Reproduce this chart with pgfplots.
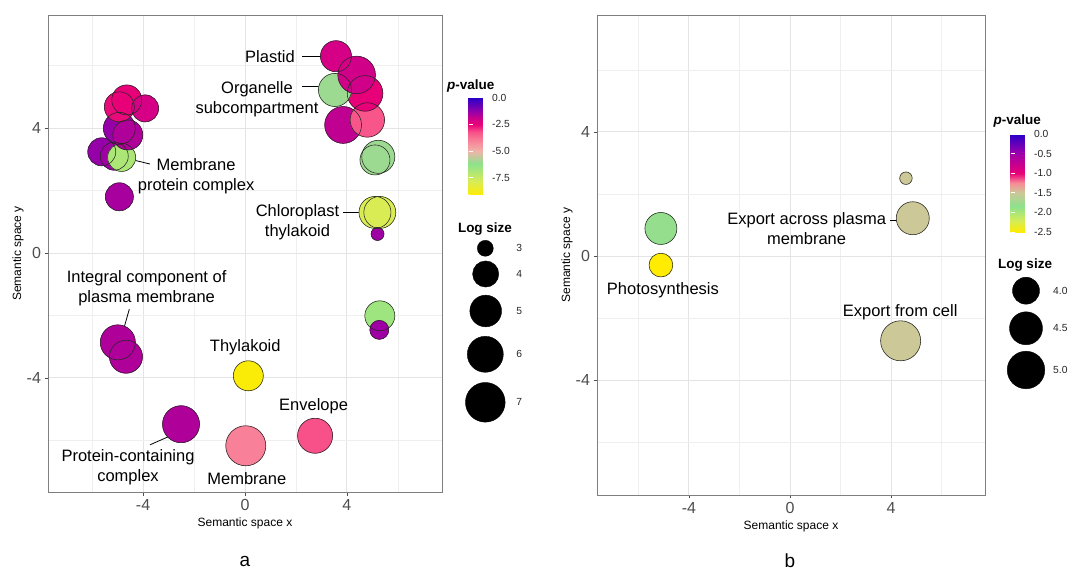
\documentclass[border=0pt]{standalone}
\usepackage{pgfplots}
\pgfplotsset{compat=1.18}
\usepackage{pgfplotstable}
\usepackage{fontspec}
\setmainfont{Liberation Sans}
\definecolor{tickgray}{HTML}{4D4D4D}
\definecolor{framegray}{HTML}{7F7F7F}
\definecolor{gridmajor}{HTML}{E4E4E4}
\definecolor{gridminor}{HTML}{EFEFEF}
\newcommand\annfont{\fontsize{16.5}{20}\selectfont}
\newcommand\tickfont{\fontsize{16}{18}\selectfont}
\newcommand\titfont{\fontsize{12}{14}\selectfont}
\newcommand\legfont{\fontsize{10.3}{12}\selectfont}
\newcommand\legtit{\fontsize{13.5}{15}\selectfont\bfseries}

\pgfplotsset{
  colormap={pvA}{rgb255(0cm)=(255,236,0) rgb255(1.32cm)=(214,236,90) rgb255(2.92cm)=(140,226,140) rgb255(4.12cm)=(240,180,170) rgb255(5.12cm)=(248,128,152) rgb255(5.92cm)=(248,80,136) rgb255(6.62cm)=(232,0,120) rgb255(7.12cm)=(208,0,136) rgb255(7.82cm)=(150,0,168) rgb255(9.12cm)=(40,0,200)},
  colormap={pvB}{rgb255(0cm)=(255,236,0) rgb255(0.3cm)=(210,236,90) rgb255(0.65cm)=(140,226,140) rgb255(1.0cm)=(204,200,152) rgb255(1.25cm)=(248,140,150) rgb255(1.5cm)=(232,0,120) rgb255(2.0cm)=(160,0,170) rgb255(2.5cm)=(40,0,200)},
  mainax/.style={
    anchor=south west, scale only axis,
    xtick={-4,0,4}, ytick={-4,0,4}, xticklabels={-4,0,4}, yticklabels={-4,0,4},
    minor xtick={-6,-2,2,6}, minor ytick={-6,-2,2,6},
    grid=both,
    major grid style={gridmajor, line width=1pt},
    minor grid style={gridminor, line width=0.7pt},
    axis line style={framegray, line width=0.8pt},
    tick style={tickgray, line width=0.7pt},
    major tick length=3.5pt, minor tick length=0pt,
    tick align=outside, tick pos=left,
    ticklabel style={font=\tickfont, text=tickgray},
    xlabel={Semantic space x}, ylabel={Semantic space y},
    label style={font=\titfont},
    clip=false,
  },
  cbar/.style={
    scale only axis,
    axis line style={draw=none},
    tick style={white, line width=0.7pt},
    major tick length=4pt,
    tick align=inside, ytick pos=both, yticklabel pos=right,
    yticklabel style={font=\legfont, text=black!85},
  },
  legax/.style={anchor=south west, scale only axis, hide axis, clip=false},
  sizeA/.style={visualization depends on={(11.6+13.87*sqrt(max(\thisrow{ls}-2.9,0)))/2 \as \msize}},
  sizeB/.style={visualization depends on={(12.5+20.5*sqrt(max(\thisrow{ls}-3.5,0)))/2 \as \msize}},
  fillbub/.style={scatter, only marks, mark=*, point meta=\thisrow{p},
    scatter/use mapped color={draw=mapped color, fill=mapped color},
    scatter/@pre marker code/.append style={/tikz/mark size=\msize}},
  linebub/.style={scatter, only marks, mark=o, point meta=\thisrow{p},
    scatter/use mapped color={draw=black!85, line width=0.55pt},
    scatter/@pre marker code/.append style={/tikz/mark size=\msize}},
  legbub/.style={scatter, only marks, mark=*, point meta=\thisrow{ls},
    scatter/use mapped color={draw=black, fill=black},
    scatter/@pre marker code/.append style={/tikz/mark size=\msize}},
}

% left panel: x, y, log size, log10 p-value
\pgfplotstableread{
x y ls p
-5.62 3.24 4.30 -1.3
-5.13 3.10 4.30 -1.4
-4.84 3.06 4.30 -6.9
-4.93 3.99 5.06 -1.3
-4.60 3.78 4.66 -1.6
-4.93 4.68 4.66 -2.6
-4.64 4.90 4.66 -2.5
-3.92 4.63 4.13 -2.1
-4.93 1.80 4.30 -1.5
3.85 4.10 6.20 -1.8
4.80 4.26 5.60 -3.3
4.71 5.11 5.90 -2.5
3.53 5.22 5.30 -6.0
4.38 5.70 6.40 -2.0
3.57 6.30 4.86 -2.1
5.23 3.08 5.30 -6.0
5.10 2.98 4.66 -6.0
5.10 1.30 5.06 -7.9
5.29 1.30 5.06 -7.9
5.20 0.61 2.91 -1.4
-4.99 -2.86 5.75 -1.6
-4.67 -3.32 5.28 -1.6
5.29 -2.01 4.66 -6.6
5.27 -2.46 3.18 -1.4
0.13 -3.93 4.66 -9.0
-2.51 -5.48 6.25 -1.6
0.03 -6.17 7.10 -4.0
2.75 -5.85 5.75 -3.2
}\dataA

% right panel
\pgfplotstableread{
x y ls p
4.59 2.51 3.50 -1.5
4.86 1.22 4.50 -1.5
-5.11 0.89 4.40 -1.8
-5.11 -0.29 3.80 -2.5
4.38 -2.73 5.30 -1.5
}\dataB

% size legends (position in px from top, log size)
\pgfplotstableread{
x y ls
485.3 -248.3 3
485.7 -274.0 4
485.7 -311.0 5
485.3 -354.3 6
485.3 -402.3 7
}\legA
\pgfplotstableread{
x y ls
1026 -290.7 4.0
1026 -328.3 4.5
1026 -370.0 5.0
}\legB

\begin{document}
\begin{tikzpicture}[x=1pt,y=1pt]
\path[use as bounding box] (0,0) rectangle (1068,570);

% ---------------- panel a ----------------
\begin{axis}[mainax,
  at={(48pt,78pt)}, width=394pt, height=477pt,
  xmin=-7.73, xmax=7.73, ymin=-7.65, ymax=7.62,
  xlabel style={at={(axis description cs:0.5,-0.065)}, anchor=center},
  ylabel style={at={(axis description cs:-0.076,0.5)}, anchor=center},
  colormap name=pvA, point meta min=-9.12, point meta max=0,
  colorbar,
  colorbar style={cbar,
    at={(parent axis.north east)}, anchor=north west, xshift=18pt, yshift=-82.7pt,
    width=20pt, height=97.3pt,
    ytick={-7.5,-5,-2.5,0}, yticklabels={-7.5,-5.0,-2.5,0.0}},
]
\addplot[sizeA, fillbub] table[x=x,y=y] {\dataA};
\addplot[sizeA, linebub] table[x=x,y=y] {\dataA};

\node[font=\annfont, anchor=east, inner sep=0pt] at (axis cs:1.96,6.30) {Plastid};
\draw[line width=0.8pt] (axis cs:2.24,6.30) -- (axis cs:3.02,6.30);
\node[font=\annfont, align=center, inner sep=0pt] at (axis cs:0.47,4.93) {Organelle\\subcompartment};
\draw[line width=0.8pt] (axis cs:2.22,5.32) -- (axis cs:3.07,5.32);
\node[font=\annfont, align=center, inner sep=0pt] at (axis cs:-1.92,2.47) {Membrane\\protein complex};
\draw[line width=0.8pt] (axis cs:-4.54,3.01) -- (axis cs:-3.73,2.85);
\node[font=\annfont, align=center, inner sep=0pt] at (axis cs:2.06,0.99) {Chloroplast\\thylakoid};
\draw[line width=0.8pt] (axis cs:3.85,1.30) -- (axis cs:5.03,1.30);
\node[font=\annfont, align=center, inner sep=0pt] at (axis cs:-3.86,-1.13) {Integral component of\\plasma membrane};
\draw[line width=0.8pt] (axis cs:-4.54,-1.80) -- (axis cs:-4.84,-2.66);
\node[font=\annfont, inner sep=0pt] at (axis cs:0.01,-3.03) {Thylakoid};
\node[font=\annfont, inner sep=0pt] at (axis cs:2.69,-4.89) {Envelope};
\node[font=\annfont, align=center, inner sep=0pt] at (axis cs:-4.59,-6.86) {Protein-containing\\complex};
\draw[line width=0.8pt] (axis cs:-3.73,-6.14) -- (axis cs:-2.84,-5.82);
\node[font=\annfont, inner sep=0pt] at (axis cs:0.07,-7.21) {Membrane};
\end{axis}

% size legend a
\begin{axis}[legax, at={(440pt,130pt)}, width=100pt, height=220pt,
  xmin=440, xmax=540, ymin=-440, ymax=-220]
\addplot[sizeA, legbub] table[x=x,y=y] {\legA};
\node[font=\legfont, text=black!85] at (axis cs:519.3,-248.3) {3};
\node[font=\legfont, text=black!85] at (axis cs:519.3,-274.0) {4};
\node[font=\legfont, text=black!85] at (axis cs:519.3,-311.0) {5};
\node[font=\legfont, text=black!85] at (axis cs:519.3,-354.3) {6};
\node[font=\legfont, text=black!85] at (axis cs:519.3,-402.3) {7};
\end{axis}
\node[font=\legtit, anchor=west, inner sep=0pt] at (447,484.3) {\textit{p}-value};
\node[font=\legtit, inner sep=0pt] at (485,341) {Log size};
\node[font=\fontsize{19}{20}\selectfont, inner sep=0pt] at (245,9) {a};

% ---------------- panel b ----------------
\begin{axis}[mainax,
  at={(597pt,75pt)}, width=388pt, height=480pt,
  xmin=-7.64, xmax=7.72, ymin=-7.7, ymax=7.77,
  xlabel style={at={(axis description cs:0.5,-0.0646)}, anchor=center},
  ylabel style={at={(axis description cs:-0.077,0.5)}, anchor=center},
  colormap name=pvB, point meta min=-2.5, point meta max=0,
  colorbar,
  colorbar style={cbar,
    at={(parent axis.north east)}, anchor=north west, xshift=17pt, yshift=-119pt,
    width=20pt, height=98pt,
    ytick={-2.5,-2,-1.5,-1,-0.5,0}, yticklabels={-2.5,-2.0,-1.5,-1.0,-0.5,0.0}},
]
\addplot[sizeB, fillbub] table[x=x,y=y] {\dataB};
\addplot[sizeB, linebub] table[x=x,y=y] {\dataB};
\node[font=\annfont, align=center, inner sep=0pt] at (axis cs:0.66,0.89) {Export across plasma\\membrane};
\draw[line width=0.8pt] (axis cs:3.96,1.16) -- (axis cs:4.72,1.16);
\node[font=\annfont, inner sep=0pt] at (axis cs:-5.03,-1.10) {Photosynthesis};
\node[font=\annfont, inner sep=0pt] at (axis cs:4.36,-1.80) {Export from cell};
\end{axis}

% size legend b
\begin{axis}[legax, at={(990pt,170pt)}, width=78pt, height=150pt,
  xmin=990, xmax=1068, ymin=-400, ymax=-250]
\addplot[sizeB, legbub] table[x=x,y=y] {\legB};
\node[font=\legfont, text=black!85, anchor=west, inner sep=0pt] at (axis cs:1053,-290.7) {4.0};
\node[font=\legfont, text=black!85, anchor=west, inner sep=0pt] at (axis cs:1053,-328.3) {4.5};
\node[font=\legfont, text=black!85, anchor=west, inner sep=0pt] at (axis cs:1053,-370.0) {5.0};
\end{axis}
\node[font=\legtit, anchor=west, inner sep=0pt] at (993.3,449.3) {\textit{p}-value};
\node[font=\legtit, inner sep=0pt] at (1025,305) {Log size};
\node[font=\fontsize{19}{20}\selectfont, inner sep=0pt] at (790,9) {b};
\end{tikzpicture}
\end{document}
